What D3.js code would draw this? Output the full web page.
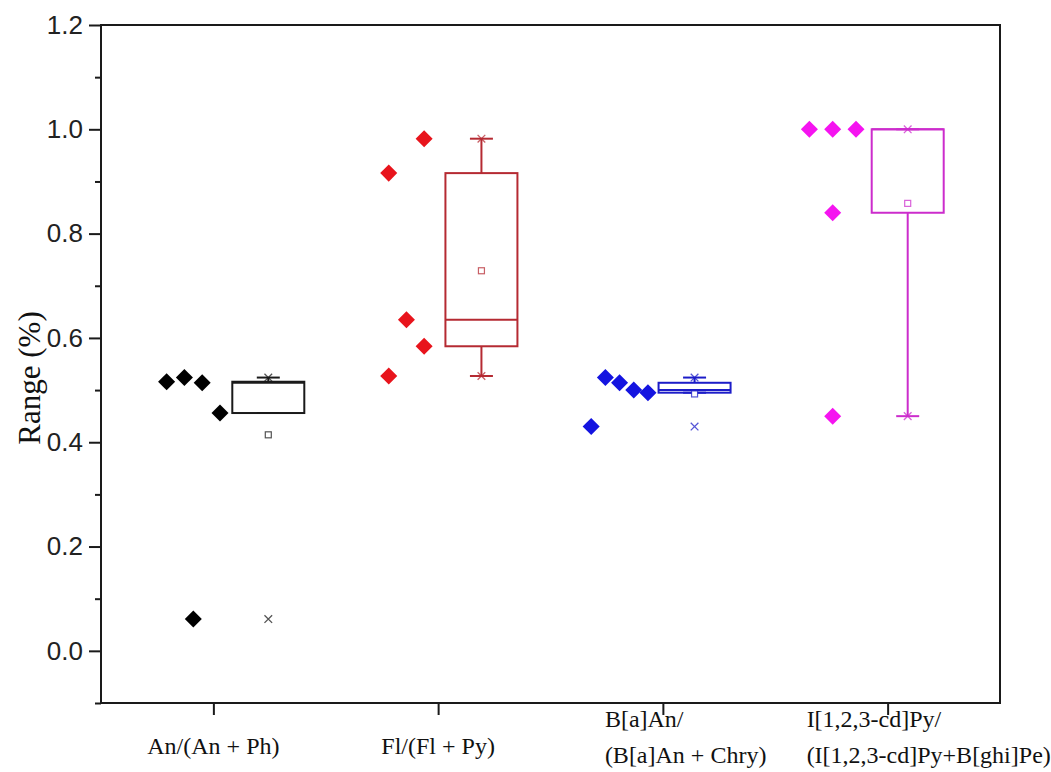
<!DOCTYPE html>
<html>
<head>
<meta charset="utf-8">
<script src="https://cdn.jsdelivr.net/npm/d3@7"></script>
<style>
  html, body { margin: 0; padding: 0; background: #fff; }
  svg { display: block; }
</style>
</head>
<body>
<svg id="chart" width="1051" height="772"></svg>
<script>
// Diagnostic isomer ratios, five samples per ratio
const categories = ["An/(An + Ph)", "Fl/(Fl + Py)", "B[a]An/(B[a]An + Chry)", "I[1,2,3-cd]Py/(I[1,2,3-cd]Py+B[ghi]Pe)"];
const categoryLines = [
  ["An/(An + Ph)"],
  ["Fl/(Fl + Py)"],
  ["B[a]An/", "(B[a]An + Chry)"],
  ["I[1,2,3-cd]Py/", "(I[1,2,3-cd]Py+B[ghi]Pe)"]
];
const anPh    = [0.516, 0.524, 0.514, 0.456, 0.061];
const flPy    = [0.982, 0.916, 0.635, 0.584, 0.527];
const baAnChr = [0.524, 0.514, 0.500, 0.495, 0.430];
const icdPyPe = [1.000, 1.000, 1.000, 0.840, 0.450];
const seriesValues = [anPh, flPy, baAnChr, icdPyPe];

// whisker ends per ratio
const whiskerLow  = [0.456, 0.527, 0.495, 0.450];
const whiskerHigh = [0.524, 0.982, 0.524, 1.000];

const yTicks = [0.0, 0.2, 0.4, 0.6, 0.8, 1.0, 1.2];
const yMinorTicks = [-0.1, 0.1, 0.3, 0.5, 0.7, 0.9, 1.1];

// styling / layout
const dotColors = ["#000000", "#e8141c", "#1414e0", "#f514f0"];
const boxColors = ["#1a1a1a", "#b52a32", "#1c1cc8", "#cc2ccc"];
const dotSlots = [
  [-1.5, -0.5, 0.5, 1.5, 0],
  [1, -1, 0, 1, -1],
  [-1, 0, 1, 2, -2],
  [-1, 0, 1, 0, 0]
];
const slotSpacing = [17.8, 17.7, 14.2, 23.3];
const labelStart = [null, null, -58, -81];

const plot = { left: 101, right: 1000, top: 25, bottom: 703 };

const svg = d3.select("#chart");

const y = d3.scaleLinear().domain([-0.1, 1.2]).range([plot.bottom, plot.top]);
const x = d3.scalePoint().domain(categories).range([plot.left, plot.right]).padding(0.5);
// horizontal placement of the sample points and boxes for each ratio
const markX = d3.scaleLinear().domain([0, 3]).range([193.3, 832.7]);
const boxShift = 75, boxWidth = 72, capWidth = 23;

// frame
svg.append("rect")
  .attr("x", plot.left).attr("y", plot.top)
  .attr("width", plot.right - plot.left).attr("height", plot.bottom - plot.top)
  .attr("fill", "none").attr("stroke", "#1a1a1a").attr("stroke-width", 2);

// left axis, major + minor ticks
const yAxis = svg.append("g").attr("transform", `translate(${plot.left},0)`)
  .call(d3.axisLeft(y).tickValues(yTicks).tickSize(12).tickPadding(6).tickFormat(d3.format(".1f")));
yAxis.select(".domain").remove();
yAxis.selectAll("line").attr("stroke", "#1a1a1a").attr("stroke-width", 2);
yAxis.selectAll("text").attr("font-family", "Liberation Sans, Arial, sans-serif")
  .attr("font-size", 26).attr("fill", "#222");

const yMinor = svg.append("g").attr("transform", `translate(${plot.left},0)`)
  .call(d3.axisLeft(y).tickValues(yMinorTicks).tickSize(6).tickFormat(""));
yMinor.select(".domain").remove();
yMinor.selectAll("line").attr("stroke", "#1a1a1a").attr("stroke-width", 2);

// bottom axis
const xAxis = svg.append("g").attr("transform", `translate(0,${plot.bottom})`)
  .call(d3.axisBottom(x).tickSize(12).tickFormat(""));
xAxis.select(".domain").remove();
xAxis.selectAll("line").attr("stroke", "#1a1a1a").attr("stroke-width", 2);

// category labels
categories.forEach((c, i) => {
  const lines = categoryLines[i];
  const t = svg.append("text")
    .attr("font-family", "Liberation Serif, Times New Roman, serif")
    .attr("font-size", 24).attr("fill", "#111");
  if (lines.length === 1) {
    t.attr("text-anchor", "middle").attr("x", x(c)).attr("y", 754).text(lines[0]);
  } else {
    lines.forEach((ln, k) => {
      t.append("tspan").attr("x", x(c) + labelStart[i]).attr("y", 727 + k * 36).text(ln);
    });
  }
});

// y title
svg.append("text")
  .attr("transform", `translate(40,378) rotate(-90)`)
  .attr("text-anchor", "middle")
  .attr("font-family", "Liberation Serif, Times New Roman, serif")
  .attr("font-size", 31).attr("fill", "#111")
  .text("Range (%)");

const diamond = d3.symbol().type(d3.symbolSquare).size(145);
const cross = d3.symbol().type(d3.symbolX).size(40);

seriesValues.forEach((vals, i) => {
  const cx = markX(i);
  const bx = cx + boxShift;
  const sorted = vals.slice().sort(d3.ascending);
  const q1 = d3.quantile(sorted, 0.25);
  const med = d3.quantile(sorted, 0.5);
  const q3 = d3.quantile(sorted, 0.75);
  const mean = d3.mean(vals);
  const [mn, mx] = d3.extent(vals);
  const g = svg.append("g");
  const col = boxColors[i];

  // sample points
  g.selectAll("path.pt").data(vals).join("path")
    .attr("class", "pt")
    .attr("d", diamond)
    .attr("transform", (d, k) => `translate(${cx + dotSlots[i][k] * slotSpacing[i]},${y(d)}) rotate(45)`)
    .attr("fill", dotColors[i]);

  // whiskers
  g.append("line").attr("x1", bx).attr("x2", bx).attr("y1", y(q3)).attr("y2", y(whiskerHigh[i]))
    .attr("stroke", col).attr("stroke-width", 2);
  g.append("line").attr("x1", bx).attr("x2", bx).attr("y1", y(q1)).attr("y2", y(whiskerLow[i]))
    .attr("stroke", col).attr("stroke-width", 2);
  [whiskerLow[i], whiskerHigh[i]].forEach(v => {
    g.append("line").attr("x1", bx - capWidth / 2).attr("x2", bx + capWidth / 2)
      .attr("y1", y(v)).attr("y2", y(v)).attr("stroke", col).attr("stroke-width", 2);
  });

  // box and median
  g.append("rect").attr("x", bx - boxWidth / 2).attr("y", y(q3))
    .attr("width", boxWidth).attr("height", y(q1) - y(q3))
    .attr("fill", "none").attr("stroke", col).attr("stroke-width", 2);
  g.append("line").attr("x1", bx - boxWidth / 2).attr("x2", bx + boxWidth / 2)
    .attr("y1", y(med)).attr("y2", y(med)).attr("stroke", col).attr("stroke-width", 2);

  // mean
  g.append("rect").attr("x", bx - 3).attr("y", y(mean) - 3).attr("width", 6).attr("height", 6)
    .attr("fill", "#fff").attr("stroke", col).attr("stroke-opacity", 0.75).attr("stroke-width", 1.2);

  // min / max
  [mn, mx].forEach(v => {
    g.append("path").attr("d", cross).attr("transform", `translate(${bx},${y(v)})`)
      .attr("fill", "none").attr("stroke", col).attr("stroke-opacity", 0.75).attr("stroke-width", 1.3);
  });
});
</script>
</body>
</html>
